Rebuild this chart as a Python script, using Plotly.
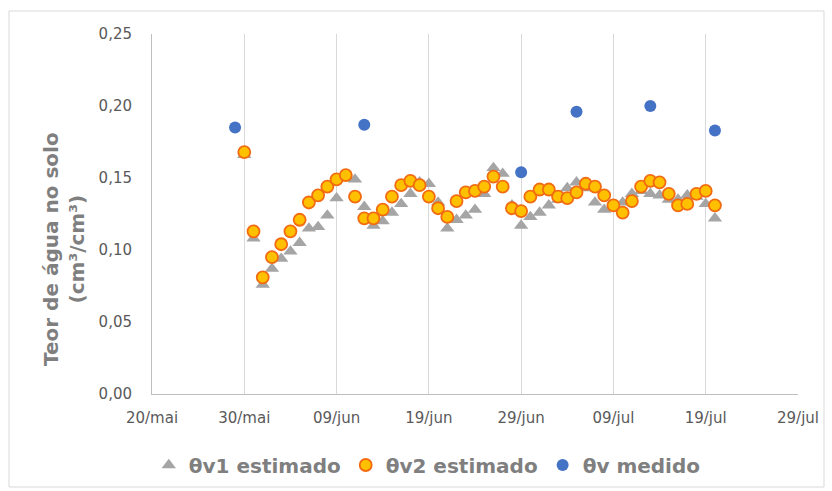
import plotly.graph_objects as go
import pandas as pd

# ---- data ----
est_start = "2019-05-30"
theta_v1 = [0.166, 0.108, 0.076, 0.087, 0.094, 0.099, 0.105, 0.115, 0.116, 0.124,
            0.136, 0.150, 0.149, 0.130, 0.117, 0.120, 0.126, 0.132, 0.139, 0.147,
            0.146, 0.133, 0.115, 0.121, 0.124, 0.128, 0.139, 0.157, 0.153, 0.131,
            0.117, 0.123, 0.126, 0.131, 0.135, 0.143, 0.147, 0.143, 0.133, 0.128,
            0.131, 0.133, 0.139, 0.141, 0.139, 0.138, 0.135, 0.135, 0.138, 0.137,
            0.132, 0.122]
theta_v2 = [0.168, 0.113, 0.081, 0.095, 0.104, 0.113, 0.121, 0.133, 0.138, 0.144,
            0.149, 0.152, 0.137, 0.122, 0.122, 0.128, 0.137, 0.145, 0.148, 0.145,
            0.137, 0.129, 0.123, 0.134, 0.140, 0.141, 0.144, 0.151, 0.144, 0.129,
            0.127, 0.137, 0.142, 0.142, 0.137, 0.136, 0.140, 0.146, 0.144, 0.138,
            0.131, 0.126, 0.134, 0.144, 0.148, 0.147, 0.139, 0.131, 0.132, 0.139,
            0.141, 0.131]
medido_dates = ["2019-05-29", "2019-06-12", "2019-06-29", "2019-07-05", "2019-07-13", "2019-07-20"]
medido_vals = [0.185, 0.187, 0.154, 0.196, 0.200, 0.183]

tick_dates = ["2019-05-20", "2019-05-30", "2019-06-09", "2019-06-19",
              "2019-06-29", "2019-07-09", "2019-07-19", "2019-07-29"]
tick_labels = ["20/mai", "30/mai", "09/jun", "19/jun", "29/jun", "09/jul", "19/jul", "29/jul"]
y_ticks = [0, 0.05, 0.10, 0.15, 0.20, 0.25]

names = ["θv1 estimado", "θv2 estimado", "θv medido"]

est_dates = pd.date_range(est_start, periods=len(theta_v2), freq="D")

L, R, T, B = 152, 34, 34, 97
W, H = 832, 491
pw, ph = W - L - R, H - T - B

fig = go.Figure()
fig.add_trace(go.Scatter(x=est_dates, y=theta_v1, mode="markers", name=names[0],
                         marker=dict(symbol="triangle-up", size=12.5, color="#a5a5a5",
                                     line=dict(width=0))))
fig.add_trace(go.Scatter(x=est_dates, y=theta_v2, mode="markers", name=names[1],
                         marker=dict(symbol="circle", size=12, color="#ffc000",
                                     line=dict(width=1.8, color="#f26b10"))))
fig.add_trace(go.Scatter(x=pd.to_datetime(medido_dates), y=medido_vals, mode="markers",
                         name=names[2],
                         marker=dict(symbol="circle", size=12, color="#4472c4",
                                     line=dict(width=0))))

tick_font = dict(family="DejaVu Sans", size=15, color="#595959")

fig.update_layout(
    width=W, height=H,
    margin=dict(l=L, r=R, t=T, b=B, autoexpand=False),
    paper_bgcolor="white", plot_bgcolor="white",
    separators=",.",
    showlegend=True,
    legend=dict(orientation="h", x=-0.005, xanchor="left", y=(394 - 465) / ph, yanchor="middle",
                font=dict(family="DejaVu Sans", size=20, color="#7f7f7f", weight="bold"),
                itemwidth=30, tracegroupgap=0, bgcolor="rgba(0,0,0,0)"),
    xaxis=dict(range=[tick_dates[0], tick_dates[-1]], tickvals=tick_dates, ticktext=tick_labels,
               showgrid=True, gridcolor="#d9d9d9", gridwidth=1,
               showline=True, linecolor="#bfbfbf", linewidth=1, automargin=False,
               ticks="", tickfont=tick_font, ticklabelstandoff=10, zeroline=False),
    yaxis=dict(range=[0, 0.25], tickvals=y_ticks, tickformat=".2f",
               showgrid=False, showline=True, linecolor="#bfbfbf", linewidth=1, automargin=False,
               ticks="", tickfont=tick_font, ticklabelstandoff=16, zeroline=False),
    annotations=[dict(text="<b>Teor de água no solo<br>(cm³/cm³)</b>", textangle=-90,
                      xref="paper", yref="paper", x=(64 - L) / pw, y=(394 - 249) / ph,
                      xanchor="center", yanchor="middle", showarrow=False,
                      font=dict(family="DejaVu Sans", size=20, color="#7f7f7f"))],
    shapes=[dict(type="rect", xref="paper", yref="paper",
                 x0=(9 - L) / pw, x1=(824 - L) / pw, y0=(394 - 487) / ph, y1=(394 - 11) / ph,
                 line=dict(color="#d9d9d9", width=1), fillcolor="rgba(0,0,0,0)", layer="below")],
)

fig.write_html("out.html", config={"displayModeBar": False},
               post_script="document.body.style.margin='0';")
